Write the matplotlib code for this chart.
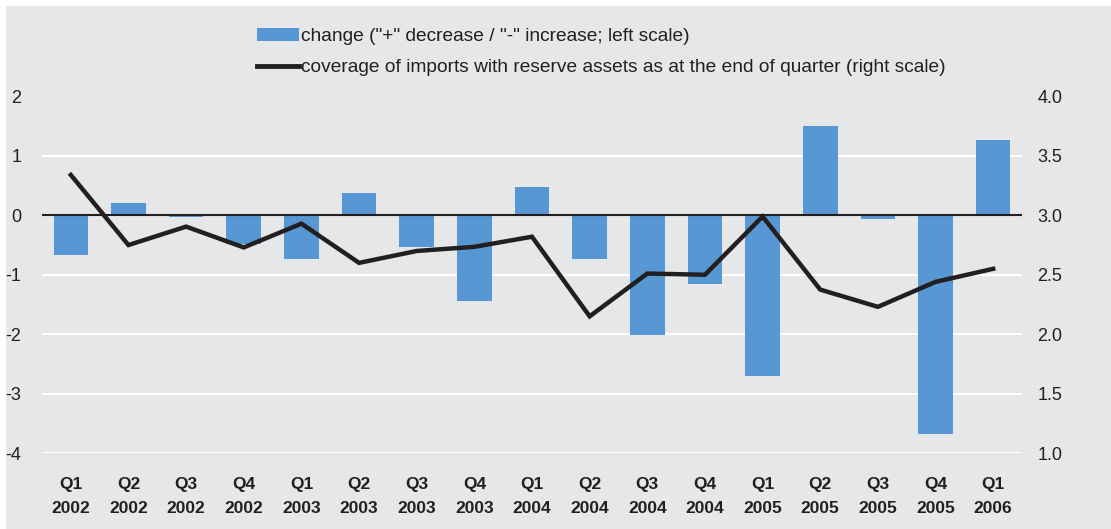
import matplotlib
matplotlib.use("Agg")
import matplotlib.pyplot as plt
from matplotlib.patches import Rectangle, Patch
from matplotlib.lines import Line2D
import numpy as np

plt.rcParams['font.family'] = ['Liberation Sans', 'DejaVu Sans']

quarters = ["Q1", "Q2", "Q3", "Q4", "Q1", "Q2", "Q3", "Q4", "Q1", "Q2", "Q3", "Q4",
            "Q1", "Q2", "Q3", "Q4", "Q1"]
years = ["2002", "2002", "2002", "2002", "2003", "2003", "2003", "2003", "2004", "2004",
         "2004", "2004", "2005", "2005", "2005", "2005", "2006"]
change = [-0.67, 0.21, -0.03, -0.48, -0.74, 0.38, -0.54, -1.45, 0.48, -0.74, -2.02,
          -1.15, -2.70, 1.50, -0.07, -3.68, 1.26]
coverage = [3.34, 2.75, 2.905, 2.73, 2.93, 2.60, 2.70, 2.735, 2.82, 2.15, 2.51, 2.50,
            2.99, 2.375, 2.23, 2.44, 2.55]

bar_color = "#5797d3"
line_color = "#231f20"
bg = "#e6e7e9"

W, H = 1111, 529
fig = plt.figure(figsize=(W / 100, H / 100), dpi=100)
fig.patch.set_facecolor("white")
fig.patches.append(Rectangle((6 / W, 0), 1 - 6 / W, 1 - 6 / H, transform=fig.transFigure,
                             facecolor=bg, edgecolor="none", zorder=-10))

ax = fig.add_axes([42 / W, 1 - 453 / H, (1022 - 42) / W, (453 - 96.5) / H])
ax.set_facecolor("none")
x = np.arange(len(change))
ax.set_ylim(-4, 2)
ax.set_xlim(-0.5, len(change) - 0.5)
for v in range(-4, 3):
    ax.axhline(v, color="white", lw=1.5, zorder=0)
ax.bar(x, change, width=0.6, color=bar_color, zorder=2)
ax.axhline(0, color=line_color, lw=1.5, zorder=3)
ax.set_yticks(range(-4, 3))
ax.set_yticklabels([str(v) for v in range(-4, 3)], fontsize=13, color="#231f20")
ax.set_xticks(x)
ax.set_xticklabels([f"{q}\n{y}" for q, y in zip(quarters, years)], fontsize=12.5,
                   fontweight="bold", color="#231f20", linespacing=1.8)
ax.tick_params(axis="y", length=0, pad=15)
ax.tick_params(axis="x", length=0, pad=17)
for s in ax.spines.values():
    s.set_visible(False)

ax2 = ax.twinx()
ax2.set_ylim(1.0, 4.0)
ax2.plot(x, coverage, color=line_color, lw=3.2, zorder=4, solid_joinstyle="miter")
ax2.set_yticks([1.0, 1.5, 2.0, 2.5, 3.0, 3.5, 4.0])
ax2.set_yticklabels([f"{v:.1f}" for v in [1.0, 1.5, 2.0, 2.5, 3.0, 3.5, 4.0]],
                    fontsize=13, color="#231f20")
ax2.tick_params(axis="y", length=0, pad=11)
for s in ax2.spines.values():
    s.set_visible(False)

handles = [Patch(facecolor=bar_color, edgecolor="none"),
           Line2D([0], [0], color=line_color, lw=3.5)]
labels = ['change ("+" decrease / "-" increase; left scale)',
          'coverage of imports with reserve assets as at the end of quarter (right scale)']
fig.legend(handles, labels, loc="upper left", bbox_to_anchor=(257 / W, 1 - 28 / H),
           frameon=False, fontsize=13.8, handlelength=2.2, handletextpad=0.1,
           labelspacing=0.7, borderaxespad=0, borderpad=0, labelcolor="#231f20")

fig.savefig("out.png", dpi=100, facecolor=fig.get_facecolor())
